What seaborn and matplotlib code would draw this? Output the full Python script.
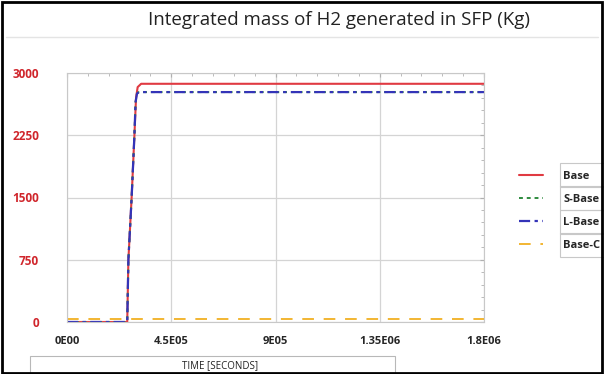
import numpy as np
import pandas as pd
import seaborn as sns
import matplotlib.pyplot as plt
from matplotlib.patches import Rectangle
from matplotlib.ticker import MultipleLocator, FixedLocator

# time axis (s) and integrated H2 mass (kg)
t_base = [0, 2.60e5, 2.62e5, 2.65e5, 2.79e5, 2.91e5, 2.98e5, 3.05e5, 3.20e5, 1.8e6]
m_base = [0, 0, 300, 750, 1500, 2250, 2700, 2830, 2870, 2870]
t_sl = [0, 2.60e5, 2.62e5, 2.65e5, 2.79e5, 2.91e5, 2.96e5, 3.02e5, 3.10e5, 1.8e6]
m_sbase = [0, 0, 300, 750, 1500, 2250, 2650, 2750, 2770, 2770]
m_lbase = [0, 0, 300, 750, 1500, 2250, 2650, 2750, 2770, 2770]
t_c = [0, 1.8e6]
m_basec = [40, 40]

x_ticks = [0, 4.5e5, 9e5, 1.35e6, 1.8e6]
x_labels = ["0E00", "4.5E05", "9E05", "1.35E06", "1.8E06"]
y_ticks = [0, 750, 1500, 2250, 3000]

sns.set_style("white")
plt.rcParams['font.family'] = ['Open Sans', 'DejaVu Sans']

fig = plt.figure(figsize=(6.04, 3.74), dpi=100)
ax = fig.add_axes([67/604, 1-322/374, (484-67)/604, (322-73)/374])

sns.lineplot(x=t_c, y=m_basec, ax=ax, color="#f2b632", lw=1.4, linestyle=(0, (6, 5)), label="Base-C")
sns.lineplot(x=t_base, y=m_base, ax=ax, color="#e03a42", lw=1.5, label="Base")
sns.lineplot(x=t_sl, y=m_sbase, ax=ax, color="#2e8b3e", lw=1.4, linestyle=(0, (2, 2)), label="S-Base")
sns.lineplot(x=t_sl, y=m_lbase, ax=ax, color="#3434b8", lw=1.6, linestyle=(0, (5, 2, 1.5, 2)), label="L-Base")

ax.set_xlim(0, 1.8e6)
ax.set_ylim(0, 3000)
ax.xaxis.set_major_locator(FixedLocator(x_ticks))
ax.set_xticklabels(x_labels)
ax.yaxis.set_major_locator(FixedLocator(y_ticks))
ax.xaxis.set_minor_locator(MultipleLocator(9e4))
ax.yaxis.set_minor_locator(MultipleLocator(150))
ax.grid(True, which="major", color="#d4d4d4", lw=0.9)
for s in ax.spines.values():
    s.set_color("#c8c8c8")
    s.set_linewidth(0.8)
ax.tick_params(axis="both", which="both", direction="in", color="#b0b0b0",
               top=True, right=True, bottom=False)
ax.tick_params(which="major", length=3)
ax.tick_params(which="minor", length=2)
ax.tick_params(axis="y", which="major", pad=20, labelsize=8.5, labelcolor="#d0262c")
ax.tick_params(axis="x", which="major", pad=10, labelsize=8)
for lab in ax.get_yticklabels() + ax.get_xticklabels():
    lab.set_fontweight("bold")
ax.set_xlabel("")
ax.set_ylabel("")

# legend with boxed labels
h, l = ax.get_legend_handles_labels()
order = [1, 2, 3, 0]
leg = ax.legend([h[i] for i in order], [l[i] for i in order],
                loc="center left", bbox_to_anchor=(1.06, 0.445), frameon=False,
                handlelength=2.2, handletextpad=1.8, labelspacing=1.08,
                prop={"size": 8, "weight": "bold"})

# title and its underline
fig.text(339/604, 1-20/374, "Integrated mass of H2 generated in SFP (Kg)",
         ha="center", va="center", fontsize=13.5, color="#222222")
fig.add_artist(plt.Line2D([0.01, 0.99], [1-37/374, 1-37/374], color="#e4e4e4", lw=1))

# axis title box
fig.add_artist(Rectangle((30/604, 0), (395-30)/604, 18/374, fill=False,
                         edgecolor="#b8b8b8", lw=0.8))
fig.text(220/604, 1-366/374, "TIME [SECONDS]", ha="center", va="center",
         fontsize=7, color="#222222")

# legend label cells
for y in [163, 186, 210, 233]:
    fig.add_artist(Rectangle((560/604, 1-(y+23.5)/374), 44/604, 23.5/374, fill=False,
                             edgecolor="#c8c8c8", lw=0.8))

# outer frame
fig.add_artist(Rectangle((0.004, 0.004), 0.992, 0.99, fill=False, edgecolor="black", lw=2))

fig.savefig("out.png", dpi=100)
